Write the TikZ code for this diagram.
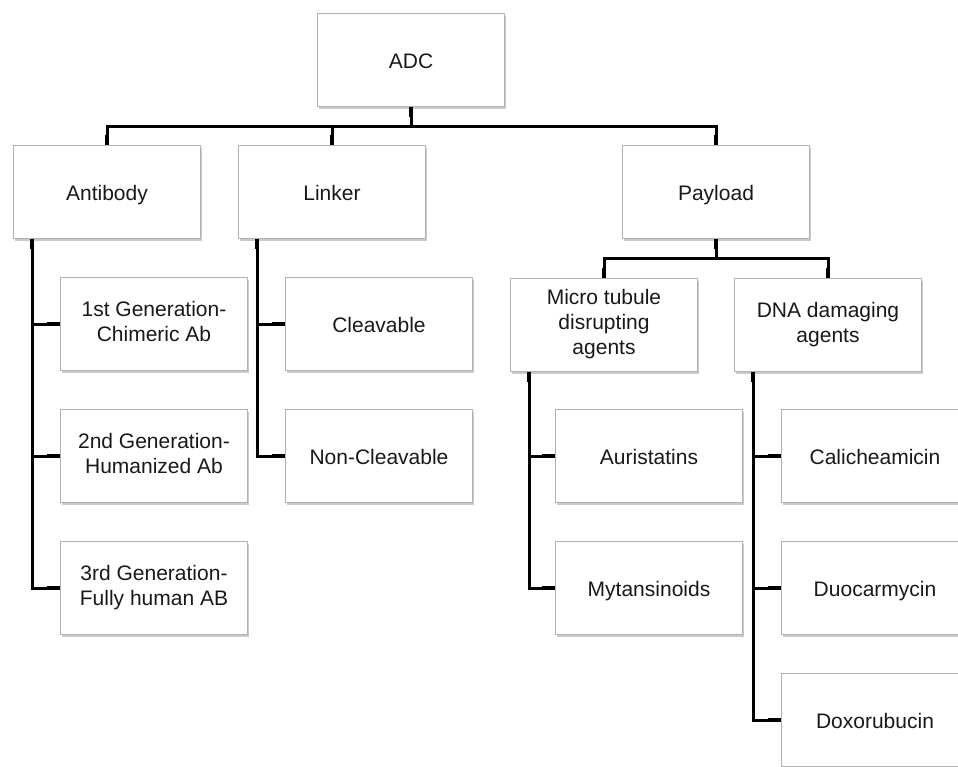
\documentclass[tikz,border=0pt]{standalone}
\usepackage{fontspec}
\setmainfont{Liberation Sans}
\usetikzlibrary{shadows}

\newcommand{\boxstrut}{\rule[-6pt]{0pt}{28pt}}

\tikzset{
  box/.style={draw=gray!60, line width=0.8pt, fill=white, align=center,
    minimum width=187pt, minimum height=93pt, inner sep=2pt,
    font=\fontsize{21}{25}\selectfont, text=black!90,
    execute at begin node=\boxstrut, execute at end node=\boxstrut,
    drop shadow={shadow xshift=1pt, shadow yshift=-2pt, fill=black!60, opacity=0.35}},
  conn/.style={line width=3pt, black},
  stub/.style={line width=4.5pt, black}
}

\begin{document}
\begin{tikzpicture}[x=1pt, y=-1pt]
        \useasboundingbox (0,0) rectangle (958,766);

        % Top level
        \node[box] (adc) at (411,60) {ADC};

        % Second level
        \node[box] (antibody) at (107,192) {Antibody};
        \node[box] (linker) at (332,192) {Linker};
        \node[box] (payload) at (716,192) {Payload};

        % Antibody generations
        \node[box] (gen1) at (154,324) {1st Generation-\\Chimeric Ab};
        \node[box] (gen2) at (154,456) {2nd Generation-\\Humanized Ab};
        \node[box] (gen3) at (154,588) {3rd Generation-\\Fully human AB};

        % Linker types
        \node[box] (cleav) at (379,324) {Cleavable};
        \node[box] (noncleav) at (379,456) {Non-Cleavable};

        % Payload classes
        \node[box] (micro) at (604,325) {Micro tubule\\disrupting\\agents};
        \node[box] (dna) at (828,325) {DNA damaging\\agents};

        % Payload examples
        \node[box] (auri) at (649,456) {Auristatins};
        \node[box] (myta) at (649,588) {Mytansinoids};
        \node[box] (cali) at (875,456) {Calicheamicin};
        \node[box] (duoc) at (875,588) {Duocarmycin};
        \node[box] (doxo) at (875,720) {Doxorubucin};

        % Connectors from ADC
        \coordinate (bus) at (411,126);
        \draw[conn] (adc.south) -- (bus);
        \draw[stub] (adc.south) -- ++(0,10);
        \foreach \c in {antibody, linker, payload} {
          \draw[conn] (bus) -| (\c.north);
          \draw[stub] (\c.north) -- ++(0,-10);
        }

        % Connectors from Payload
        \coordinate (pbus) at (716,258);
        \draw[conn] (payload.south) -- (pbus);
        \draw[stub] (payload.south) -- ++(0,10);
        \foreach \c in {micro, dna} {
          \draw[conn] (pbus) -| (\c.north);
          \draw[stub] (\c.north) -- ++(0,-10);
        }

        % Side branches
        \foreach \p/\c in {antibody/gen1, antibody/gen2, antibody/gen3,
                           linker/cleav, linker/noncleav,
                           micro/auri, micro/myta,
                           dna/cali, dna/duoc, dna/doxo} {
          \draw[conn] ([xshift=19pt]\p.south west) |- (\c.west);
          \draw[stub] ([xshift=19pt]\p.south west) -- ++(0,10);
          \draw[stub] (\c.west) -- ++(-13,0);
        }
    \end{tikzpicture}
\end{document}
